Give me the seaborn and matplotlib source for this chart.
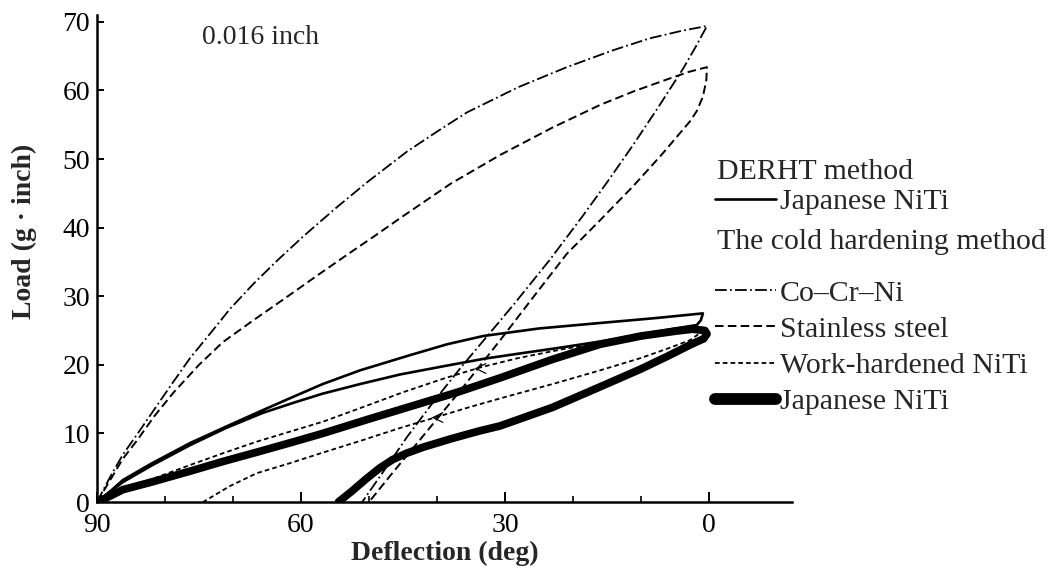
import matplotlib
matplotlib.use("Agg")
import matplotlib.pyplot as plt
from matplotlib.lines import Line2D
import pandas as pd
import seaborn as sns

# ---- load–deflection loops (deflection in deg, load in g·inch), wire 0.016 inch ----
# Co-Cr-Ni, cold hardening method: loading branch then unloading branch
cocr_defl = [90, 88.1, 86.2, 84.0, 82.2, 79.0, 76.3, 73.0, 70.4, 67.0, 63.5, 59.7, 54.7,
             50.3, 44.4, 40.0, 35.6, 28.0, 20.9, 14.0, 8.7, 4.0, 0.3,
             2.0, 3.8, 7.5, 11.2, 15.0, 18.5, 23.5, 28.8, 32.6, 36.5, 40.6, 44.4, 47.5, 51.0]
cocr_load = [0, 3.6, 6.9, 10.0, 12.6, 17.2, 21.0, 25.0, 28.2, 31.8, 35.2, 38.7, 43.0,
             46.6, 51.1, 54.0, 56.8, 60.5, 63.4, 65.9, 67.6, 68.7, 69.4,
             66.3, 63.2, 57.5, 52.0, 46.6, 41.8, 35.2, 28.7, 24.2, 19.6, 14.5, 9.5, 5.0, 0]

# Stainless steel, cold hardening method
ss_defl = [90, 88.0, 86.2, 84.1, 81.5, 78.8, 75.0, 71.5, 67.0, 62.5, 57.5, 53.0, 49.0,
           45.4, 38.0, 30.7, 23.0, 16.0, 11.0, 6.2, 3.0, 0.3,
           0.4, 0.9, 1.8, 2.8, 7.0, 11.2, 16.0, 20.9, 25.9, 30.7, 36.6, 42.9, 46.5, 50.0]
ss_load = [0, 3.3, 6.3, 9.0, 12.6, 15.9, 20.0, 23.3, 26.5, 29.6, 33.1, 36.2, 38.9,
           41.4, 46.4, 50.6, 54.6, 57.9, 59.9, 61.6, 62.7, 63.4,
           61.5, 59.1, 57.0, 55.5, 50.6, 46.0, 41.1, 36.2, 29.8, 23.6, 16.2, 8.6, 4.3, 0]

# Work-hardened NiTi, cold hardening method
wh_defl = [90, 87.0, 84.0, 81.2, 76.3, 71.5, 66.5, 61.5, 56.8, 51.0, 45.0, 39.0, 33.7,
           28.0, 21.9, 16.0, 10.0, 5.0, 2.0, 0.5,
           1.5, 2.8, 6.0, 10.0, 16.0, 23.0, 30.0, 35.0, 40.0, 45.4, 51.0, 56.8, 61.5,
           66.5, 70.5, 74.4]
wh_load = [0, 1.5, 2.7, 3.6, 5.4, 7.1, 8.8, 10.3, 11.7, 13.8, 16.0, 18.0, 19.6,
           21.0, 22.2, 23.2, 24.0, 24.6, 25.0, 25.2,
           24.5, 23.6, 22.4, 21.0, 19.2, 17.2, 15.3, 13.9, 12.4, 10.8, 9.0, 7.2, 5.7,
           4.2, 2.3, 0]
# direction marks on the work-hardened NiTi curves
wh_arrow_defl = [33.7, 40.0]
wh_arrow_load = [19.6, 12.4]

# Japanese NiTi, cold hardening method (heavy trace)
jc_defl = [90, 88.0, 86.2, 82.0, 76.3, 71.5, 66.0, 61.0, 56.8, 50.0, 44.0, 37.0, 30.7,
           23.0, 16.0, 10.0, 5.0, 2.4, 0.6, 0.3,
           0.8, 2.8, 6.0, 10.0, 16.0, 23.0, 30.7, 34.0, 38.0, 42.0, 44.5, 46.5, 48.5,
           50.5, 52.5, 54.5]
jc_load = [0, 0.9, 1.8, 2.9, 4.5, 5.9, 7.4, 8.8, 10.0, 12.1, 13.9, 16.0, 18.1,
           20.8, 23.0, 24.2, 24.9, 25.2, 25.0, 24.5,
           23.8, 22.9, 21.3, 19.4, 16.8, 13.8, 11.1, 10.3, 9.2, 8.0, 7.1, 6.2, 4.9,
           3.3, 1.6, 0]

# Japanese NiTi, DERHT method
jd_defl = [90, 88.0, 86.2, 82.0, 76.3, 71.0, 65.6, 61.0, 56.8, 51.3, 44.0, 38.5, 33.2,
           25.0, 16.0, 8.0, 0.9,
           1.2, 1.8, 5.0, 10.0, 16.0, 21.9, 27.5, 33.0, 39.0, 45.4, 51.3, 56.8, 61.0,
           65.6, 71.0, 76.3, 82.0, 86.2, 90]
jd_load = [0, 1.6, 3.2, 5.6, 8.6, 11.0, 13.4, 15.4, 17.2, 19.2, 21.4, 23.0, 24.2,
           25.3, 26.1, 26.8, 27.5,
           26.5, 25.8, 25.3, 24.4, 23.4, 22.5, 21.7, 20.9, 19.8, 18.6, 17.2, 15.8, 14.5,
           13.0, 10.8, 8.3, 5.3, 2.9, 0]

x_ticks_major = [90, 60, 30, 0]
x_ticks_minor = [80, 70, 50, 40, 20, 10]
y_ticks = [0, 10, 20, 30, 40, 50, 60, 70]

sns.set_theme(style="ticks")
plt.rcParams["font.family"] = ["Liberation Serif", "DejaVu Serif"]
plt.rcParams["mathtext.fontset"] = "stix"

FS = 20        # axis and annotation text
FS_LEG = 21.5  # legend text

fig = plt.figure(figsize=(10.5, 5.72), dpi=100)
ax = fig.add_axes([97 / 1050, 1 - 502 / 572, 695 / 1050, 487 / 572])

styles = {
    "cocr": dict(lw=1.3, ls=(0, (6.5, 1.8, 1.0, 1.8))),
    "ss": dict(lw=1.4, ls=(0, (4.4, 2.2))),
    "wh": dict(lw=1.3, ls=(0, (2.6, 1.7))),
    "jc": dict(lw=5.6, ls="-"),
    "jd": dict(lw=1.9, ls="-"),
}

curves = [
    ("cocr", cocr_defl, cocr_load),
    ("ss", ss_defl, ss_load),
    ("wh", wh_defl, wh_load),
    ("jc", jc_defl, jc_load),
    ("jd", jd_defl, jd_load),
]
for key, xd, yd in curves:
    df = pd.DataFrame({"deflection": xd, "load": yd})
    st = styles[key]
    sns.lineplot(data=df, x="deflection", y="load", sort=False, estimator=None,
                 color="black", lw=st["lw"], linestyle=st["ls"], ax=ax,
                 solid_capstyle="round", solid_joinstyle="round")

sns.scatterplot(x=wh_arrow_defl, y=wh_arrow_load, marker=r"$<$", s=70,
                color="black", linewidth=0, ax=ax)

ax.set_xlim(90, -12.2)
ax.set_ylim(0, 71)
ax.set_xticks(x_ticks_major)
ax.set_xticks(x_ticks_minor, minor=True)
ax.set_yticks(y_ticks)
ax.tick_params(axis="x", which="major", direction="in", length=7, width=1.4,
               labelsize=FS, pad=8, colors="black")
ax.tick_params(axis="x", which="minor", direction="in", length=4.5, width=1.4)
ax.tick_params(axis="y", direction="in", length=5, width=1.4, labelsize=FS,
               pad=5, colors="black")
sns.despine(ax=ax)
for side in ("left", "bottom"):
    ax.spines[side].set_linewidth(1.8)
    ax.spines[side].set_color("black")

ax.set_xlabel("Deflection (deg)", fontsize=FS, fontweight="bold", labelpad=2)
ax.set_ylabel("Load (g · inch)", fontsize=FS, fontweight="bold")
ax.yaxis.set_label_coords(-0.087, 0.555)

ax.text(74.6, 67.7, "0.016 inch", fontsize=FS, ha="left", va="center")

# legend, grouped by processing method
h_jd = Line2D([], [], color="black", lw=styles["jd"]["lw"])
h_cocr = Line2D([], [], color="black", lw=styles["cocr"]["lw"], ls=styles["cocr"]["ls"])
h_ss = Line2D([], [], color="black", lw=styles["ss"]["lw"], ls=styles["ss"]["ls"])
h_wh = Line2D([], [], color="black", lw=styles["wh"]["lw"], ls=styles["wh"]["ls"])
h_jc = Line2D([], [], color="black", lw=8.5, solid_capstyle="round")

leg_x = 715 / 1050
common = dict(loc="center left", bbox_transform=fig.transFigure, frameon=False,
              borderpad=0, borderaxespad=0, handlelength=2.05, handletextpad=0.12,
              labelspacing=0.31, fontsize=FS_LEG)

fig.text(717 / 1050, 1 - 172 / 572, "DERHT method", fontsize=FS_LEG, ha="left", va="center")
leg1 = ax.legend(handles=[h_jd], labels=["Japanese NiTi"],
                 bbox_to_anchor=(leg_x, 1 - 202 / 572), **common)
ax.add_artist(leg1)

fig.text(717 / 1050, 1 - 242 / 572, "The cold hardening method", fontsize=FS_LEG,
         ha="left", va="center")
ax.legend(handles=[h_cocr, h_ss, h_wh, h_jc],
          labels=["Co–Cr–Ni", "Stainless steel", "Work-hardened NiTi", "Japanese NiTi"],
          bbox_to_anchor=(leg_x, 1 - 347.5 / 572), **common)

fig.savefig("out.png", dpi=100, facecolor="white")
